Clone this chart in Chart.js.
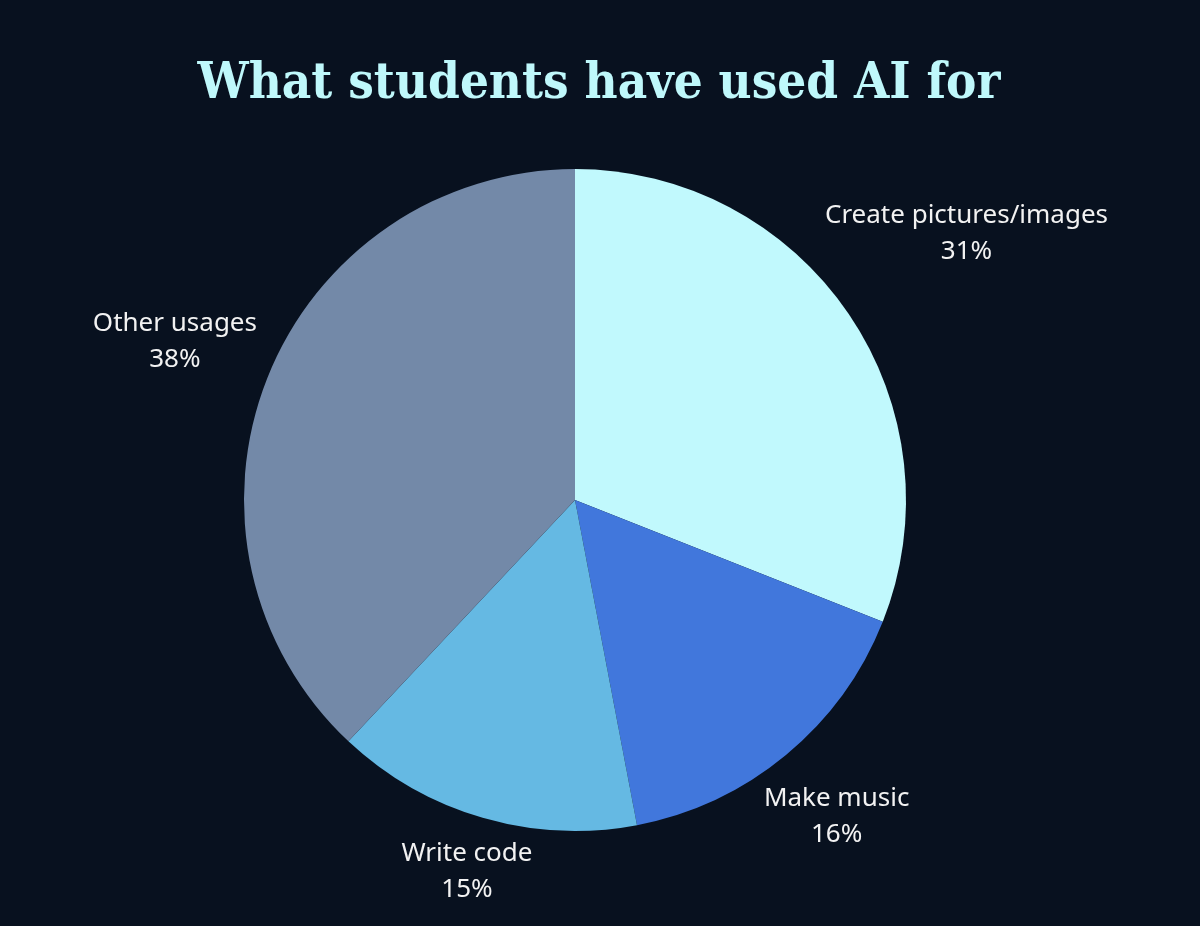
<!DOCTYPE html>
<html>
<head>
<meta charset="utf-8">
<script src="https://cdn.jsdelivr.net/npm/chart.js@4.4.1/dist/chart.umd.min.js"></script>
<style>
  html, body { margin: 0; padding: 0; background: #08111f; }
  #wrap { width: 1200px; height: 926px; position: relative; }
</style>
</head>
<body>
<div id="wrap"><canvas id="usageChart" width="1200" height="926"></canvas></div>
<script>
// data
const chartTitle = 'What students have used AI for';
const usageLabels = ['Create pictures/images', 'Make music', 'Write code', 'Other usages'];
const usageShares = [31, 16, 15, 38];
const sliceColors = ['#c1f9fd', '#4177dc', '#65b9e3', '#7389a8'];

// how far out each label sits, as a multiple of the radius
const labelDistance = [1.43, 1.24, 1.17, 1.30];

const titlePlugin = {
    id: 'bigTitle',
    afterDraw(chart) {
        const ctx = chart.ctx;
        ctx.save();
        ctx.fillStyle = '#bff8fb';
        ctx.font = 'bold 50px "DejaVu Serif"';
        ctx.textAlign = 'center';
        ctx.textBaseline = 'alphabetic';
        ctx.fillText(chartTitle, 599, 98, 803);
        ctx.restore();
    }
};

const sliceLabels = {
    id: 'sliceLabels',
    afterDatasetsDraw(chart) {
        const ctx = chart.ctx;
        const arcs = chart.getDatasetMeta(0).data;
        ctx.save();
        ctx.fillStyle = '#f2f2f2';
        ctx.font = '26px "Noto Sans"';
        ctx.textAlign = 'center';
        ctx.textBaseline = 'middle';
        arcs.forEach((arc, i) => {
            const mid = (arc.startAngle + arc.endAngle) / 2;
            const d = arc.outerRadius * labelDistance[i];
            const x = arc.x + Math.cos(mid) * d;
            const y = arc.y + Math.sin(mid) * d;
            ctx.fillText(usageLabels[i], x, y - 18);
            ctx.fillText(usageShares[i] + '%', x, y + 18);
        });
        ctx.restore();
    }
};

new Chart(document.getElementById('usageChart').getContext('2d'), {
    type: 'pie',
    data: {
        labels: usageLabels,
        datasets: [{
            data: usageShares,
            backgroundColor: sliceColors,
            borderWidth: 0
        }]
    },
    options: {
        responsive: false,
        animation: false,
        layout: { padding: { top: 169, bottom: 95, left: 100, right: 150 } },
        plugins: {
            legend: { display: false },
            tooltip: { enabled: false },
            title: { display: false }
        }
    },
    plugins: [titlePlugin, sliceLabels]
});
</script>
</body>
</html>
